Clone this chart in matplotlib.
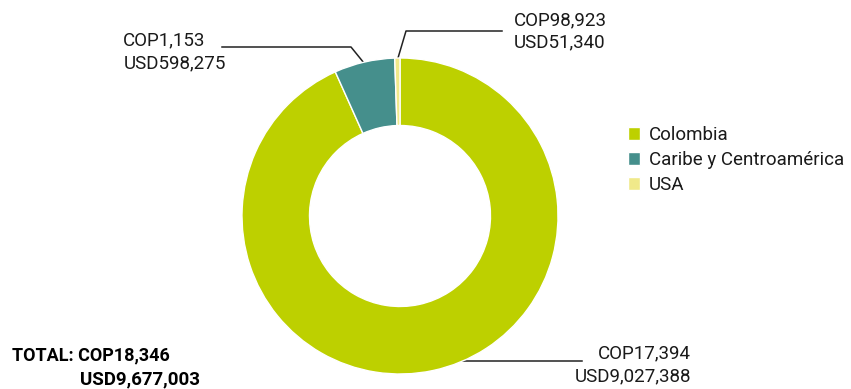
import matplotlib
matplotlib.use("Agg")
import matplotlib.pyplot as plt
import numpy as np

plt.rcParams['font.family'] = ['Roboto', 'DejaVu Sans']

# Regional breakdown (USD drives the wedge sizes)
regions = ["Colombia", "Caribe y Centroamérica", "USA"]
usd_values = [9027388, 598275, 51340]
cop_labels = ["COP17,394", "COP1,153", "COP98,923"]
usd_labels = ["USD9,027,388", "USD598,275", "USD51,340"]
colors = ["#BDD000", "#458F8C", "#F0E98A"]
total_cop = "COP18,346"
total_usd = "USD9,677,003"

W, H = 851, 389
fig = plt.figure(figsize=(W / 100, H / 100), dpi=100)
ax = fig.add_axes([0, 0, 1, 1])

cx, cy, R = 400, H - 216, 158
wedges, _ = ax.pie(usd_values, colors=colors, startangle=90, counterclock=False,
                   radius=R, center=(cx, cy),
                   wedgeprops=dict(width=67.5, edgecolor="white", linewidth=1))
for w in wedges:
    w.set_zorder(3)

ax.set_xlim(0, W)
ax.set_ylim(0, H)
ax.set_aspect("equal")
ax.axis("off")

txt_color = "#1a1a1a"
fs = 13.5
line_kw = dict(color="#222222", lw=1.1, zorder=2)


def edge_point(w, r):
    ang = np.deg2rad((w.theta1 + w.theta2) / 2)
    return cx + r * np.cos(ang), cy + r * np.sin(ang)


# Colombia: horizontal leader from beneath the ring
y_c = H - 361
ax.plot([440, 582], [y_c, y_c], **line_kw)
ax.text(691, H - 353, cop_labels[0], ha="right", va="center", fontsize=fs, color=txt_color)
ax.text(691, H - 376, usd_labels[0], ha="right", va="center", fontsize=fs, color=txt_color)

# Caribe y Centroamérica: elbow leader to the left
px, py = edge_point(wedges[1], R - 2)
ax.plot([px, 351, 222], [py, H - 47, H - 47], **line_kw)
ax.text(123, H - 40, cop_labels[1], ha="left", va="center", fontsize=fs, color=txt_color)
ax.text(124, H - 63, usd_labels[1], ha="left", va="center", fontsize=fs, color=txt_color)

# USA: elbow leader to the right
px, py = edge_point(wedges[2], R - 2)
ax.plot([px, 406, 502], [py, H - 31, H - 31], **line_kw)
ax.text(514, H - 20, cop_labels[2], ha="left", va="center", fontsize=fs, color=txt_color)
ax.text(514, H - 42, usd_labels[2], ha="left", va="center", fontsize=fs, color=txt_color)

# Totals
ax.text(12, H - 355, "TOTAL: " + total_cop, ha="left", va="center", fontsize=13,
        fontweight="bold", color="black")
ax.text(80, H - 379, total_usd, ha="left", va="center", fontsize=13.5,
        fontweight="bold", color="black")

leg = ax.legend(wedges, regions, loc="upper left", bbox_to_anchor=(628 / W, 1 - 126 / H),
                frameon=False, fontsize=fs, handlelength=0.65, handleheight=0.65,
                handletextpad=0.45, labelspacing=0.38, borderpad=0, borderaxespad=0)
for t in leg.get_texts():
    t.set_color(txt_color)

fig.savefig("out.png", dpi=100)
